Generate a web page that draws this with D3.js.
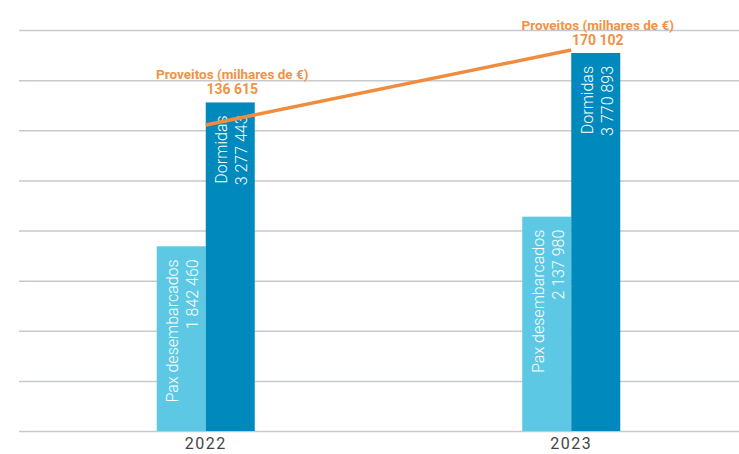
<!doctype html>
<html lang="pt">
<head>
<meta charset="UTF-8">
<title>Pax desembarcados, Dormidas e Proveitos 2022-2023</title>
<script src="https://d3js.org/d3.v7.min.js"></script>
<style>
body { margin: 0; background: #fff; font-family: Roboto, "Noto Sans", sans-serif; }
svg { display: block; }
.grid line { stroke: #c6c9ce; stroke-width: 1.5; }
.grid path { display: none; }
.year { font-size: 16px; fill: #444; letter-spacing: 1.5px; }
.inbar { font-size: 16px; font-weight: 300; fill: #fff; }
.prov { font-size: 13.5px; font-weight: bold; fill: #f39244; }
</style>
</head>
<body>
<div id="plot"></div>
<script>

var years = ["2022", "2023"];
var pax = [1842460, 2137980];
var dormidas = [3277443, 3770893];
var proveitos = [136615, 170102];
var gridTicks = [0, 500000, 1000000, 1500000, 2000000, 2500000, 3000000, 3500000, 4000000];

var width = 739;
var height = 454;

var fmt = function (v) { return d3.format(",")(v).replace(/,/g, " "); };

var svg = d3.select("#plot").append("svg")
	.attr("width", width)
	.attr("height", height);

var xScale = d3.scalePoint().domain(years)
	.range([23, 754])
	.padding(0.5);

var yScale = d3.scaleLinear().domain([0, 4000000])
	.range([431, 30]);

// hidden secondary axis for Proveitos
var yRight = d3.scaleLinear().domain([0, 179000])
	.range([431, 30]);

var barW = 49;

var yAxis = d3.axisLeft(yScale)
	.tickValues(gridTicks)
	.tickSize(-(width - 19))
	.tickFormat("");

svg.append("g")
	.attr("class", "grid")
	.attr("transform", "translate(19, 0)")
	.call(yAxis);

var rows = years.map(function (y, i) {
	return { year: y, pax: pax[i], dormidas: dormidas[i], proveitos: proveitos[i] };
});

// light bars
svg.selectAll("rect.pax")
	.data(rows)
	.enter().append("rect")
	.attr("class", "pax")
	.attr("x", function (d) { return xScale(d.year) - barW; })
	.attr("y", function (d) { return yScale(d.pax); })
	.attr("width", barW)
	.attr("height", function (d) { return yScale(0) - yScale(d.pax); })
	.style("fill", "#5dc8e3");

// dark bars
svg.selectAll("rect.dorm")
	.data(rows)
	.enter().append("rect")
	.attr("class", "dorm")
	.attr("x", function (d) { return xScale(d.year); })
	.attr("y", function (d) { return yScale(d.dormidas); })
	.attr("width", barW)
	.attr("height", function (d) { return yScale(0) - yScale(d.dormidas); })
	.style("fill", "#0089bc");

function barLabel (cx, top, title, value) {
	var t = svg.append("text")
		.attr("class", "inbar")
		.attr("text-anchor", "end")
		.attr("transform", "translate(" + cx + "," + (top + 13) + ") rotate(-90)");
	t.append("tspan").attr("x", 0).attr("y", -3).text(title);
	t.append("tspan").attr("x", 0).attr("y", 17).text(fmt(value));
}

rows.forEach(function (d) {
	var cx = xScale(d.year);
	barLabel(cx - barW / 2, yScale(d.pax), "Pax desembarcados", d.pax);
	barLabel(cx + barW / 2, yScale(d.dormidas), "Dormidas", d.dormidas);
});

// proveitos line
var line = d3.line()
	.x(function (d) { return xScale(d.year); })
	.y(function (d) { return yRight(d.proveitos); });

svg.append("path")
	.attr("d", line(rows))
	.style("fill", "none")
	.style("stroke", "#f08c3e")
	.style("stroke-width", 3.5);

rows.forEach(function (d) {
	var cx = xScale(d.year) + barW / 2 + 2;
	var top = yScale(d.dormidas);
	svg.append("text")
		.attr("class", "prov")
		.attr("text-anchor", "middle")
		.attr("x", cx)
		.attr("y", top - 23)
		.text("Proveitos (milhares de €)");
	svg.append("text")
		.attr("class", "prov")
		.attr("text-anchor", "middle")
		.attr("x", cx)
		.attr("y", top - 8)
		.style("font-size", "14px")
		.text(fmt(d.proveitos));
});

// year labels
svg.selectAll("text.year")
	.data(years)
	.enter().append("text")
	.attr("class", "year")
	.attr("text-anchor", "middle")
	.attr("x", function (d) { return xScale(d); })
	.attr("y", 449)
	.text(function (d) { return d; });

</script>
</body>
</html>
